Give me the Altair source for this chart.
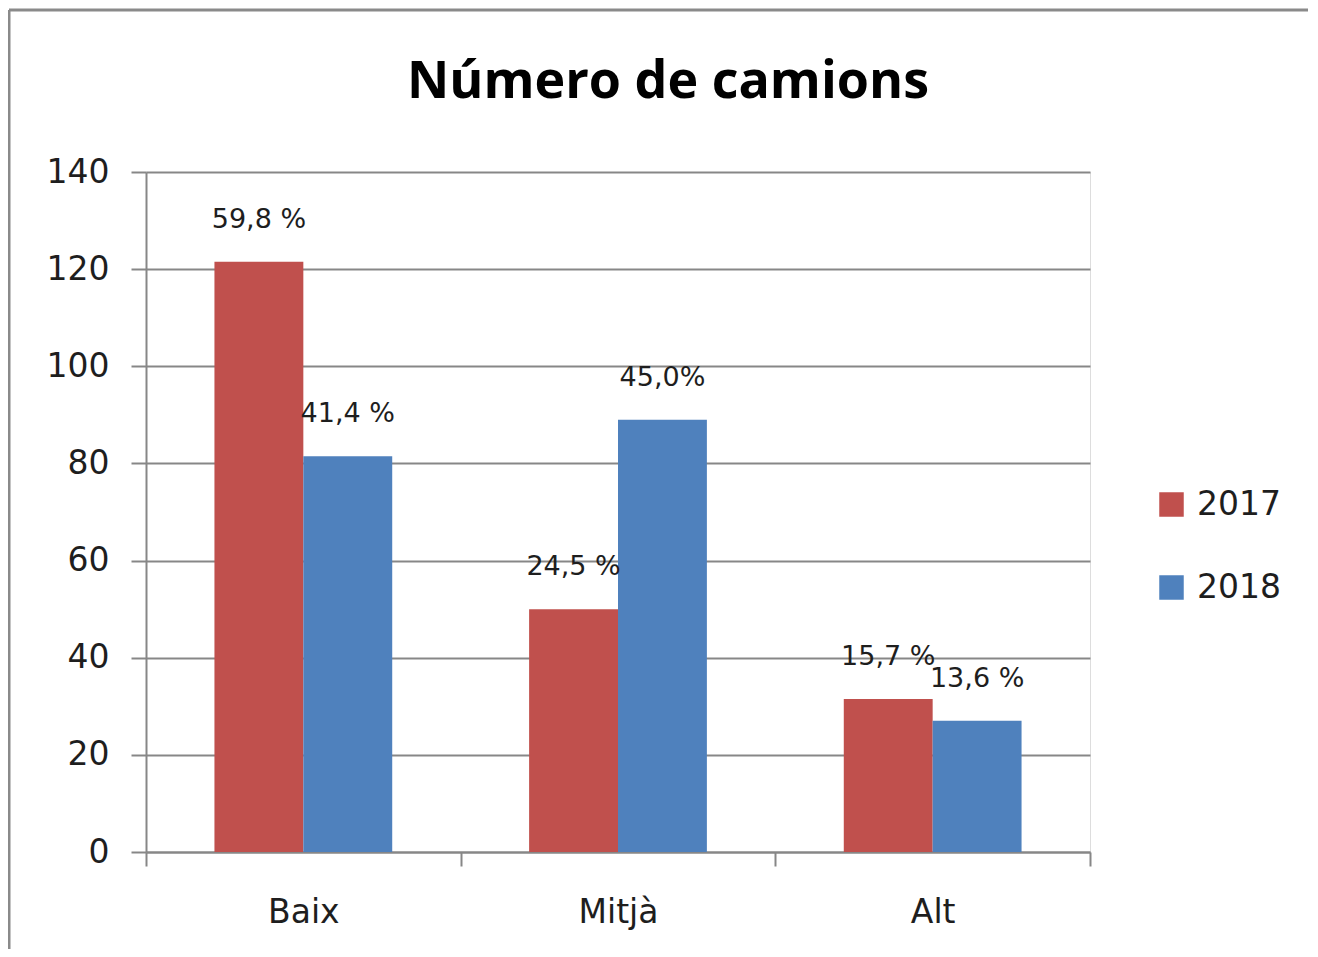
import altair as alt
import pandas as pd

categories = ["Baix", "Mitjà", "Alt"]
years = ["2017", "2018"]
values_2017 = [121.5, 50, 31.5]
values_2018 = [81.5, 89, 27]
labels_2017 = ["59,8 %", "24,5 %", "15,7 %"]
labels_2018 = ["41,4 %", "45,0%", "13,6 %"]
y_ticks = [0, 20, 40, 60, 80, 100, 120, 140]
title_text = "Número de camions"

rows = []
for c, v, l in zip(categories, values_2017, labels_2017):
    rows.append({"cat": c, "year": "2017", "value": v, "label": l})
for c, v, l in zip(categories, values_2018, labels_2018):
    rows.append({"cat": c, "year": "2018", "value": v, "label": l})
df = pd.DataFrame(rows)

GRID = "#878787"
TXT = "#1e1e1e"
FONT = "DejaVu Sans"

x_scale = alt.Scale(paddingInner=0, paddingOuter=0)
off_scale = alt.Scale(paddingInner=0, paddingOuter=0.77)

x_enc = alt.X("cat:N", sort=categories, title=None, scale=x_scale,
              axis=alt.Axis(labelAngle=0, labelFontSize=33, labelFont=FONT, labelColor=TXT,
                            labelPadding=30, tickBand="extent", tickSize=14, tickWidth=2,
                            tickColor=GRID, domainColor=GRID, domainWidth=2, grid=False))
y_enc = alt.Y("value:Q", title=None,
              scale=alt.Scale(domain=[0, 140], nice=False),
              axis=alt.Axis(values=y_ticks, labelFontSize=33, labelFont=FONT, labelColor=TXT,
                            labelPadding=22, tickSize=15, tickWidth=2, tickColor=GRID,
                            domainColor=GRID, domainWidth=2, gridColor=GRID, gridWidth=2))
color_enc = alt.Color("year:N", sort=years, title=None,
                      scale=alt.Scale(domain=years, range=["#C0504D", "#4F81BD"]),
                      legend=alt.Legend(orient="none", legendX=1009, legendY=316,
                                        symbolType="square", symbolSize=600,
                                        symbolStrokeWidth=0, labelFontSize=33,
                                        labelFont=FONT, labelColor=TXT, labelOffset=9,
                                        rowPadding=49))

base = alt.Chart(df)
bars = base.mark_bar().encode(
    x=x_enc, y=y_enc, color=color_enc,
    xOffset=alt.XOffset("year:N", sort=years, scale=off_scale),
)
texts = base.mark_text(baseline="middle", dy=-42, fontSize=27, font=FONT, color=TXT).encode(
    x=alt.X("cat:N", sort=categories, scale=x_scale),
    y="value:Q",
    xOffset=alt.XOffset("year:N", sort=years, scale=off_scale),
    text="label:N",
)

one = alt.Chart(pd.DataFrame({"a": [0]}))
title_mark = one.mark_text(font="Open Sans", fontSize=52, fontWeight="bold", color="#000000",
                           align="center", baseline="middle").encode(
    x=alt.value(522), y=alt.value(-90), text=alt.value(title_text))
border_top = one.mark_rule(color="#8a8a8a", strokeWidth=3).encode(
    x=alt.value(-137), x2=alt.value(1180), y=alt.value(-162))
border_left = one.mark_rule(color="#8a8a8a", strokeWidth=3).encode(
    x=alt.value(-137), y=alt.value(-162), y2=alt.value(800))

chart = alt.layer(bars, texts, title_mark, border_top, border_left).properties(
    width=944, height=680,
    autosize=alt.AutoSizeParams(type="none"),
    padding={"left": 138, "top": 164, "right": 218, "bottom": 97},
).configure_view(stroke=None).configure(background="white")

chart.save("out.html", embed_options={"renderer": "svg", "actions": False})
